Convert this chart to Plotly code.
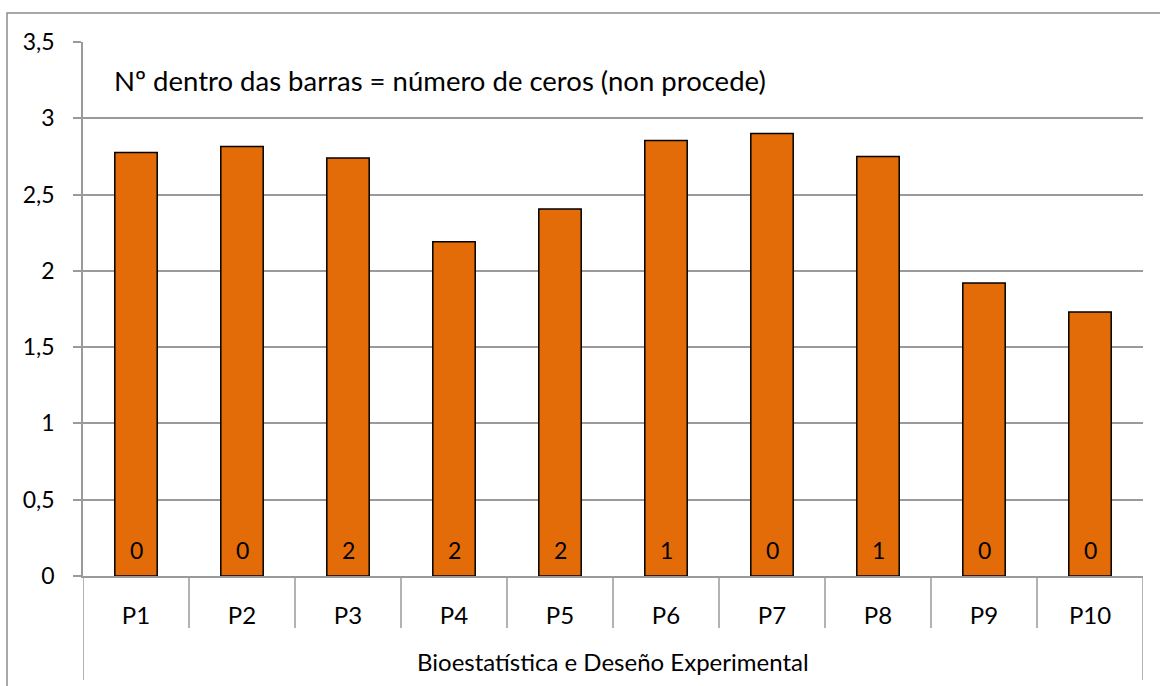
import plotly.graph_objects as go

categories = ["P1", "P2", "P3", "P4", "P5", "P6", "P7", "P8", "P9", "P10"]
values = [2.775, 2.815, 2.74, 2.19, 2.405, 2.855, 2.90, 2.75, 1.92, 1.73]
zeros_count = ["0", "0", "2", "2", "2", "1", "0", "1", "0", "0"]
group_label = "Bioestatística e Deseño Experimental"
note_text = "Nº dentro das barras = número de ceros (non procede)"
y_ticks = [0, 0.5, 1, 1.5, 2, 2.5, 3, 3.5]

FONT = "Lato"
GRAY = "#9a9a9a"
BAR = "#E36C09"

fig = go.Figure()
fig.add_trace(go.Bar(
    x=categories, y=values, width=0.4,
    marker=dict(color=BAR, line=dict(color="black", width=1.5)),
    showlegend=False, hoverinfo="skip",
))

# count labels inside bars
for c, t in zip(categories, zeros_count):
    fig.add_annotation(x=c, y=0, xref="x", yref="y", text=t, showarrow=False,
                       yanchor="middle", yshift=26, font=dict(size=23, color="black", family=FONT))

# category dividers (boundaries) and outer bracket
plot_h = 686 - 42 - 110
n = len(categories)
for i in range(n + 1):
    outer = i in (0, n)
    y0 = -(680 - 576) / plot_h if outer else -(628 - 576) / plot_h
    fig.add_shape(type="line", xref="x", yref="paper", x0=i - 0.5, x1=i - 0.5,
                  y0=0, y1=y0, line=dict(color=GRAY, width=1.5))

# group label
fig.add_annotation(x=(n - 1) / 2, y=-(661 - 576) / plot_h, xref="x", yref="paper",
                   text=group_label, showarrow=False, yanchor="middle",
                   font=dict(size=24, color="black", family=FONT))

# note text
fig.add_annotation(x=(112 - 83) / 1060, y=3.25, xref="paper", yref="y", text=note_text,
                   showarrow=False, xanchor="left", yanchor="middle",
                   font=dict(size=27.5, color="black", family=FONT))

# outer chart border (cropped at right/bottom)
fig.add_shape(type="rect", xref="paper", yref="paper",
              x0=(7 - 83) / 1060, x1=1.2, y0=-0.5, y1=(576 - 13) / plot_h,
              line=dict(color="#8c8c8c", width=1.5), fillcolor="rgba(0,0,0,0)", layer="below")

fig.update_layout(
    width=1160, height=686,
    margin=dict(l=83, r=17, t=42, b=110),
    paper_bgcolor="white", plot_bgcolor="white",
    separators=", ",
    font=dict(family=FONT, size=23, color="black"),
    bargap=0.6,
    xaxis=dict(
        type="category", range=[-0.5, n - 0.5],
        showline=True, linecolor=GRAY, linewidth=1.5,
        ticks="", showgrid=False, ticklabelstandoff=17,
        tickfont=dict(size=24, color="black", family=FONT),
    ),
    yaxis=dict(
        range=[0, 3.5], tickvals=y_ticks,
        showline=True, linecolor=GRAY, linewidth=1.5,
        showgrid=True, gridcolor=GRAY, gridwidth=1.5,
        ticks="outside", ticklen=8, tickcolor=GRAY, tickwidth=1.5,
        ticklabelstandoff=14,
        tickfont=dict(size=23, color="black", family=FONT),
        zeroline=False,
    ),
)

fig.write_html("out.html", config={"displayModeBar": False},
               post_script="document.body.style.margin='0';")
